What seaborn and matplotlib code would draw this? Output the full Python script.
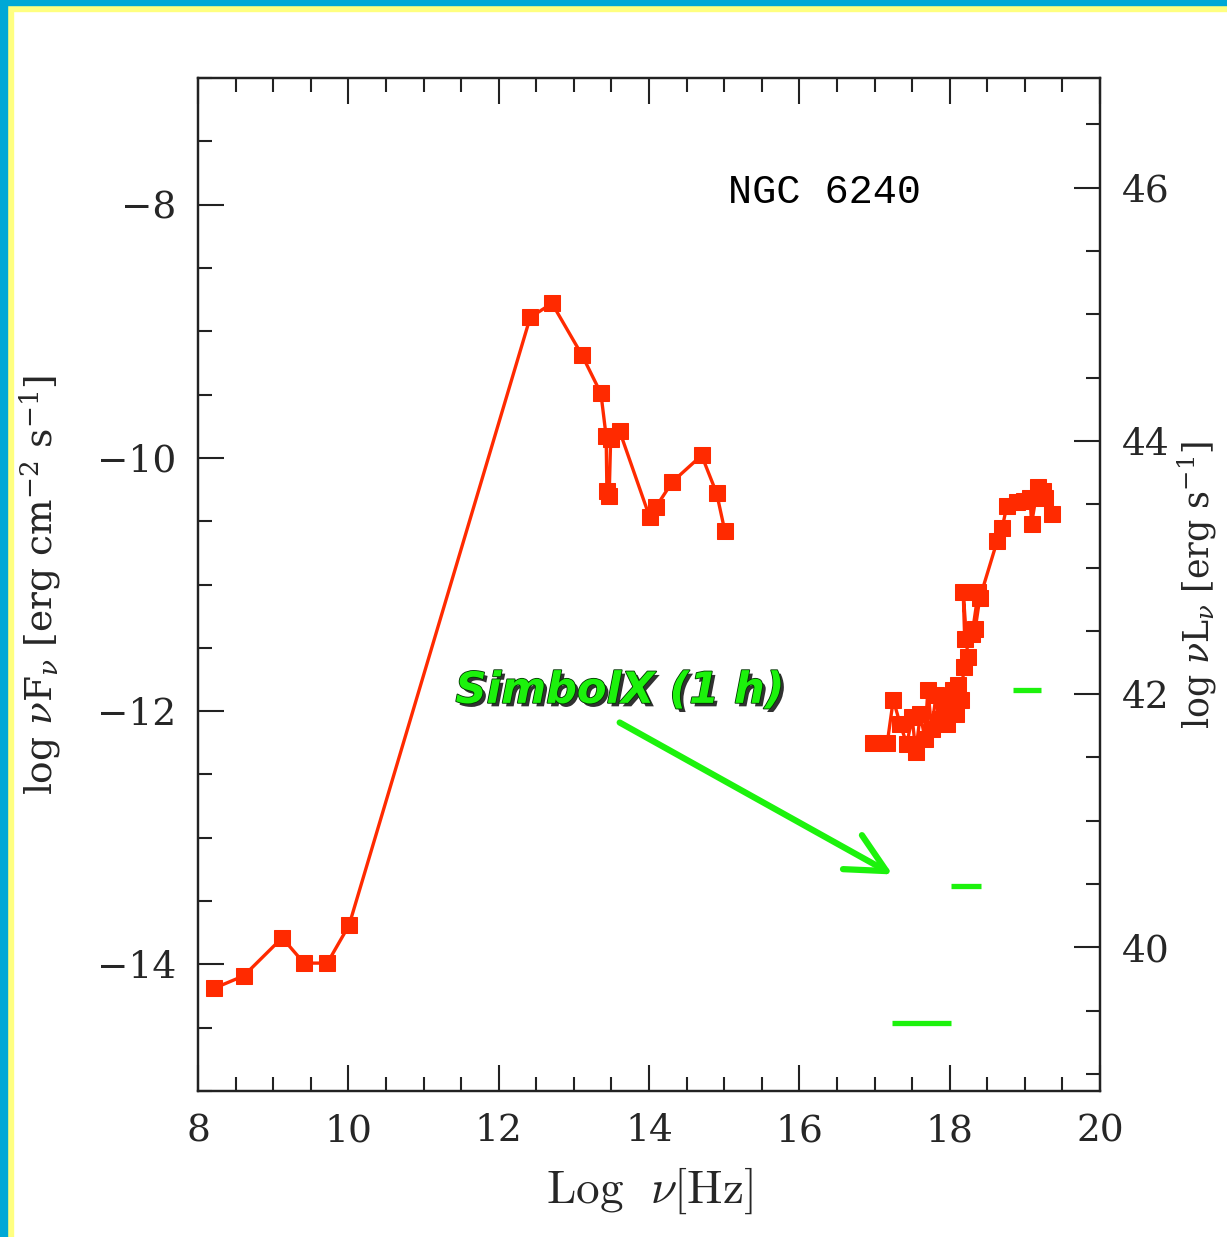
import numpy as np
import pandas as pd
import matplotlib
matplotlib.use("Agg")
import matplotlib.pyplot as plt
import matplotlib.patheffects as pe
from matplotlib.ticker import MultipleLocator
from matplotlib.patches import Rectangle
import seaborn as sns

# ---------------- data ----------------
radio_ir_lognu = [8.21, 8.61, 9.12, 9.41, 9.72, 10.01, 12.42, 12.71, 13.11, 13.36,
                  13.43, 13.44, 13.47, 13.49, 13.61, 14.01, 14.09, 14.31, 14.70, 14.90, 15.01]
radio_ir_logflux = [-14.19, -14.09, -13.79, -13.99, -13.99, -13.69, -8.89, -8.78, -9.19, -9.49,
                    -9.83, -10.26, -10.30, -9.85, -9.79, -10.47, -10.39, -10.19, -9.98, -10.28, -10.58]

xray_lognu = [16.98, 17.17, 17.25, 17.34, 17.43, 17.50, 17.55, 17.61, 17.67, 17.71,
              17.76, 17.82, 17.87, 17.92, 17.96, 18.00, 18.04, 18.08, 18.11, 18.15,
              18.19, 18.24, 18.18, 18.20, 18.30, 18.38, 18.34, 18.40, 18.63, 18.70,
              18.76, 18.90, 18.99, 19.07, 19.09, 19.17, 19.24, 19.27, 19.36]
xray_logflux = [-12.25, -12.25, -11.91, -12.10, -12.26, -12.05, -12.32, -12.02, -12.22, -11.83,
                -12.14, -11.87, -12.06, -11.95, -12.10, -11.98, -11.83, -12.02, -11.79, -11.91,
                -11.65, -11.57, -11.06, -11.43, -11.39, -11.06, -11.35, -11.11, -10.66, -10.55,
                -10.38, -10.35, -10.34, -10.32, -10.52, -10.23, -10.26, -10.32, -10.44]

simbolx_lognu_min = [18.84, 18.02, 17.23]
simbolx_lognu_max = [19.22, 18.42, 18.02]
simbolx_logflux = [-11.83, -13.38, -14.46]

arrow_start = (13.61, -12.09)
arrow_end = (17.24, -13.29)

lum_offset = 53.866  # log nuL - log nuF

xlim = (8, 20)
ylim = (-15, -7)

# ---------------- style ----------------
sns.set_theme(style="ticks")
plt.rcParams["font.family"] = ["DejaVu Serif", "DejaVu Sans"]
plt.rcParams["mathtext.fontset"] = "dejavuserif"

RED = "#ff2a00"
GREEN = "#1cf20c"

fig = plt.figure(figsize=(12.27, 12.37), dpi=100)
fig.patch.set_facecolor("white")
ax = fig.add_axes([198/1227, 1 - 1091/1237, (1100-198)/1227, (1091-78)/1237])

df1 = pd.DataFrame({"lognu": radio_ir_lognu, "logF": radio_ir_logflux})
df2 = pd.DataFrame({"lognu": xray_lognu, "logF": xray_logflux})
for d in (df1, df2):
    sns.lineplot(data=d, x="lognu", y="logF", sort=False, estimator=None, ax=ax,
                 color=RED, lw=2.4, marker="s", markersize=12,
                 markeredgecolor=RED, markerfacecolor=RED)

ax.hlines(simbolx_logflux, simbolx_lognu_min, simbolx_lognu_max, colors=GREEN, lw=3.8)

ax.annotate("", xy=arrow_end, xytext=arrow_start,
            arrowprops=dict(arrowstyle="->,head_length=1.4,head_width=0.7", color=GREEN,
                            lw=4.5, shrinkA=0, shrinkB=0, mutation_scale=20))

ax.text(13.61, -11.84, "SimbolX (1 h)", color=GREEN, fontsize=31, fontweight="bold",
        fontstyle="italic", family=["DejaVu Sans"], ha="center", va="center",
        path_effects=[pe.SimplePatchShadow(offset=(2.5, -2.5), shadow_rgbFace="k", alpha=0.9),
                      pe.Stroke(linewidth=1.2, foreground="#003300"), pe.Normal()])

ax.text(16.34, -7.90, "NGC 6240", fontsize=29, family=["Liberation Mono"],
        ha="center", va="center", color="black")

ax.set_xlim(*xlim)
ax.set_ylim(*ylim)
ax.xaxis.set_major_locator(MultipleLocator(2))
ax.xaxis.set_minor_locator(MultipleLocator(0.5))
ax.yaxis.set_major_locator(MultipleLocator(2))
ax.yaxis.set_minor_locator(MultipleLocator(0.5))
ax.tick_params(which="both", direction="in", top=True, right=False, left=True, bottom=True,
               color="#222222", width=1.5)
ax.tick_params(which="major", length=19, labelsize=27, pad=16)
ax.tick_params(which="minor", length=10)
for s in ax.spines.values():
    s.set_linewidth(1.6)
    s.set_color("#222222")

ax.set_xlabel(r"$\mathrm{Log}\ \ \nu[\mathrm{Hz}]$", fontsize=34, math_fontfamily="cm", labelpad=12)
ax.set_ylabel(r"log $\nu$F$_\nu$ [erg cm$^{-2}$ s$^{-1}$]", fontsize=27, labelpad=24)

ax2 = ax.twinx()
ax2.set_ylim(ylim[0] + lum_offset, ylim[1] + lum_offset)
ax2.yaxis.set_major_locator(MultipleLocator(2))
ax2.yaxis.set_minor_locator(MultipleLocator(0.5))
ax2.tick_params(which="both", direction="in", right=True, left=False, color="#222222", width=1.5)
ax2.tick_params(which="major", length=19, labelsize=27, pad=16)
ax2.tick_params(which="minor", length=10)
for s in ax2.spines.values():
    s.set_linewidth(1.6)
    s.set_color("#222222")
ax2.set_ylabel(r"log $\nu$L$_\nu$ [erg s$^{-1}$]", fontsize=25, labelpad=4)

# decorative frame (blue / yellow) on left and top
BLUE = "#00a8d6"
YELLOW = "#ffff80"
fig.patches.append(Rectangle((0, 0), 13/1227, 1, transform=fig.transFigure, color=YELLOW, zorder=-1))
fig.patches.append(Rectangle((0, 1 - 11/1237), 1, 11/1237, transform=fig.transFigure, color=YELLOW, zorder=-1))
fig.patches.append(Rectangle((0, 0), 7/1227, 1, transform=fig.transFigure, color=BLUE, zorder=0))
fig.patches.append(Rectangle((0, 1 - 5/1237), 1, 5/1237, transform=fig.transFigure, color=BLUE, zorder=0))

fig.savefig("out.png", dpi=100)
